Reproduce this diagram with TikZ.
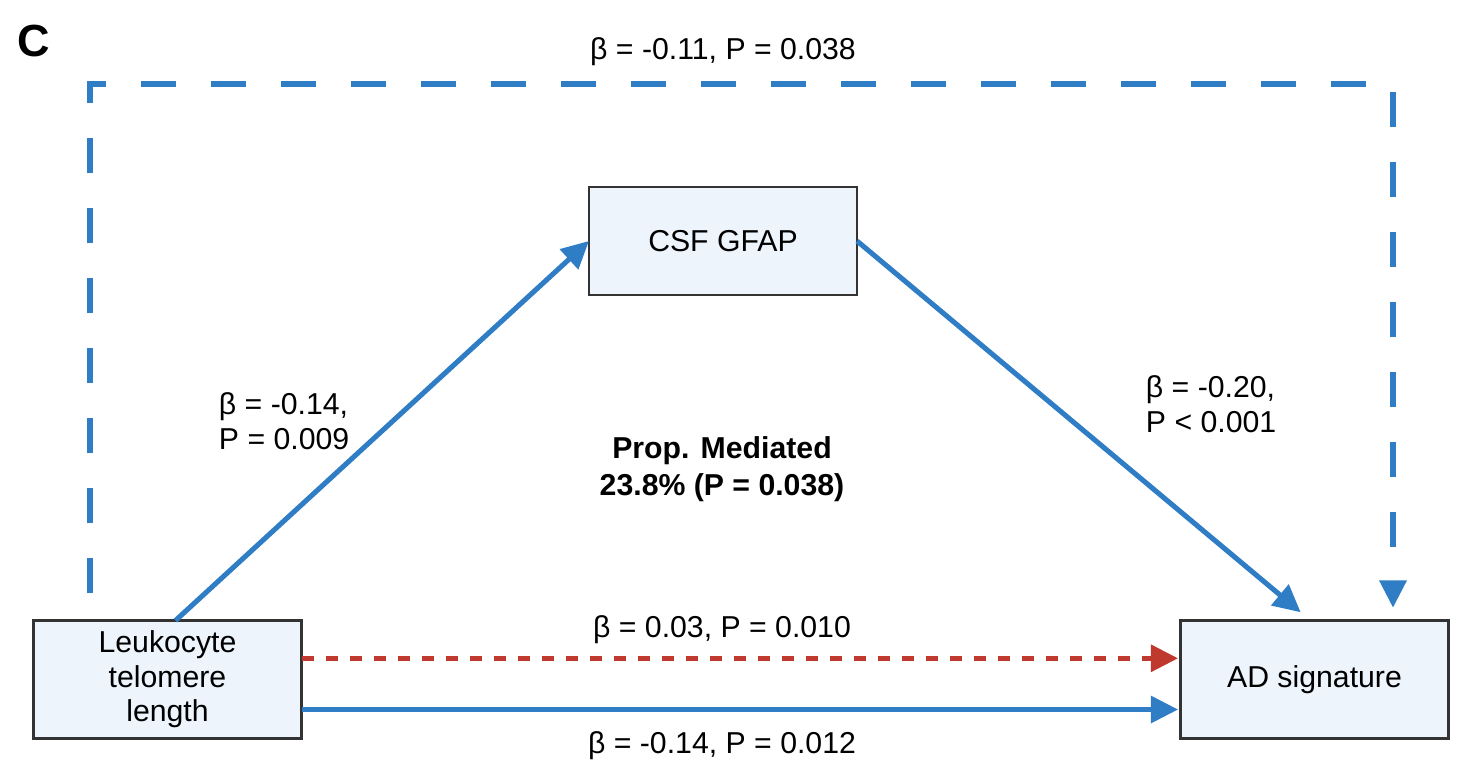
\documentclass[tikz,border=0pt]{standalone}
\usepackage{fontspec}
\setmainfont{Liberation Sans}
\usetikzlibrary{arrows.meta,positioning}
\definecolor{pathblue}{HTML}{2F7DC4}
\definecolor{pathred}{HTML}{C0392F}
\definecolor{boxfill}{HTML}{EDF4FC}
\definecolor{boxline}{HTML}{333333}

\begin{document}
\begin{tikzpicture}[x=0.025cm, y=-0.025cm
    , var/.style = {rectangle,draw=boxline,line width=1.6pt,fill=boxfill,minimum width=6.7cm,minimum height=2.95cm,align=center,outer sep=0mm,font=\fontsize{21.5}{24.5}\selectfont}
    , effect/.style = {draw=pathblue,line width=3.6pt,-{Triangle[length=0.68cm,width=0.66cm]}}
    , lbl/.style = {font=\fontsize{21.5}{24.5}\selectfont}
]
\useasboundingbox (0,0) rectangle (1466,770);
\node[font=\bfseries\fontsize{32}{34}\selectfont] (panel) at (34,41) {C};
% the three variables
\node[var,minimum height=2.7cm] (csf) at (723,241) {CSF GFAP};
\node[var] (ltl) at (167.5,679.5) {Leukocyte\\telomere\\length};
\node[var] (ad) at (1314.5,679.5) {AD signature};
% total effect, round the top
\coordinate (tl) at (90,84);
\coordinate (tr) at (1393,84);
\draw[effect,dash pattern=on 0.875cm off 0.875cm,dash phase=1.075cm,shorten >=0.32cm]
    (ltl.north -| tl) -- (tl) -- (tr) -- (ad.north -| tr);
% mediated path
\draw[effect] ([xshift=0.2cm]ltl.north) -- (csf.west);
\draw[effect,shorten >=0.32cm] (csf.east) -- ([xshift=-0.1cm]ad.north);
% direct paths
\draw[effect,draw=pathred,dash pattern=on 0.3cm off 0.3cm,-{Triangle[length=0.68cm,width=0.66cm,fill=pathred]},shorten >=0.06cm]
    ([yshift=0.53cm]ltl.east) -- ([yshift=0.53cm]ad.west);
\draw[effect,shorten >=0.06cm] ([yshift=-0.75cm]ltl.east) -- ([yshift=-0.75cm]ad.west);
% labels
\node[lbl] (total) at (723,52) {β = -0.11, P = 0.038};
\node[lbl,align=left,anchor=west] (apath) at (214,421) {β = -0.14,\\ P = 0.009};
\node[lbl,align=left,anchor=west] (bpath) at (1141,404) {β = -0.20,\\P < 0.001};
\node[lbl,align=center,font=\bfseries\fontsize{21.5}{26.5}\selectfont] (prop) at (722,469) {Prop. Mediated\\23.8\% (P = 0.038)};
\node[lbl] (direct) at (722,630) {β = 0.03, P = 0.010};
\node[lbl] (total2) at (722,746) {β = -0.14, P = 0.012};
\end{tikzpicture}
\end{document}
